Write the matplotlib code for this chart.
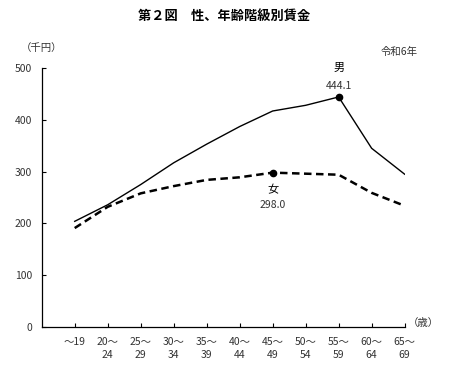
import matplotlib
matplotlib.use("Agg")
import matplotlib.pyplot as plt

plt.rcParams['font.family'] = ['Noto Sans CJK JP', 'DejaVu Sans']

categories = ["～19", "20～\n24", "25～\n29", "30～\n34", "35～\n39", "40～\n44",
              "45～\n49", "50～\n54", "55～\n59", "60～\n64", "65～\n69"]
male = [204.0, 236.0, 275.0, 317.0, 353.0, 387.0, 417.0, 428.0, 444.1, 345.0, 295.0]
female = [191.0, 232.0, 258.0, 272.0, 284.0, 289.0, 298.0, 296.0, 294.0, 259.0, 234.0]
yticks = [0, 100, 200, 300, 400, 500]
male_peak = 8
female_peak = 6

fig = plt.figure(figsize=(4.49, 3.69), dpi=100)
ax = fig.add_axes([0.0929, 0.1138, 0.8083, 0.7019])
x = list(range(len(categories)))
ax.plot(x, male, color='black', lw=1.0, solid_joinstyle='miter')
ax.plot(x, female, color='black', lw=1.8, ls=(0, (3.0, 1.8)))
ax.plot([male_peak], [male[male_peak]], 'o', color='black', ms=4.5)
ax.plot([female_peak], [female[female_peak]], 'o', color='black', ms=4.5)

ax.set_xlim(-1, 10)
ax.set_ylim(0, 500)
ax.set_yticks(yticks)
ax.set_yticklabels([str(v) for v in yticks], fontsize=7.5, color='#333333')
ax.set_xticks(x)
ax.set_xticklabels(categories, fontsize=7.5, color='#333333', linespacing=1.3)
for s in ['top', 'right']:
    ax.spines[s].set_visible(False)
for s in ['left', 'bottom']:
    ax.spines[s].set_linewidth(0.9)
ax.tick_params(axis='y', direction='in', length=3, width=0.8, pad=7)
ax.tick_params(axis='x', direction='in', length=3, width=0.8, pad=7.5)

ax.annotate("男", (male_peak, male[male_peak]), xytext=(0, 21), textcoords='offset points',
            ha='center', va='center', fontsize=8)
ax.annotate(f"{male[male_peak]:.1f}", (male_peak, male[male_peak]), xytext=(0, 8),
            textcoords='offset points', ha='center', va='center', fontsize=7.5, color='#333333')
ax.annotate("女", (female_peak, female[female_peak]), xytext=(0, -12.5), textcoords='offset points',
            ha='center', va='center', fontsize=8)
ax.annotate(f"{female[female_peak]:.1f}", (female_peak, female[female_peak]), xytext=(0, -23.5),
            textcoords='offset points', ha='center', va='center', fontsize=7.5, color='#333333')

fig.text(0.5, 0.957, "第２図　性、年齢階級別賃金", ha='center', va='center',
         fontsize=9.5, fontweight='bold')
fig.text(0.093, 0.870, "（千円）", ha='center', va='center', fontsize=7.5, color='#333333')
fig.text(0.888, 0.859, "令和6年", ha='center', va='center', fontsize=7.5, color='#333333')
fig.text(0.943, 0.125, "（歳）", ha='center', va='center', fontsize=7.5, color='#333333')

fig.savefig("out.png", dpi=100)
